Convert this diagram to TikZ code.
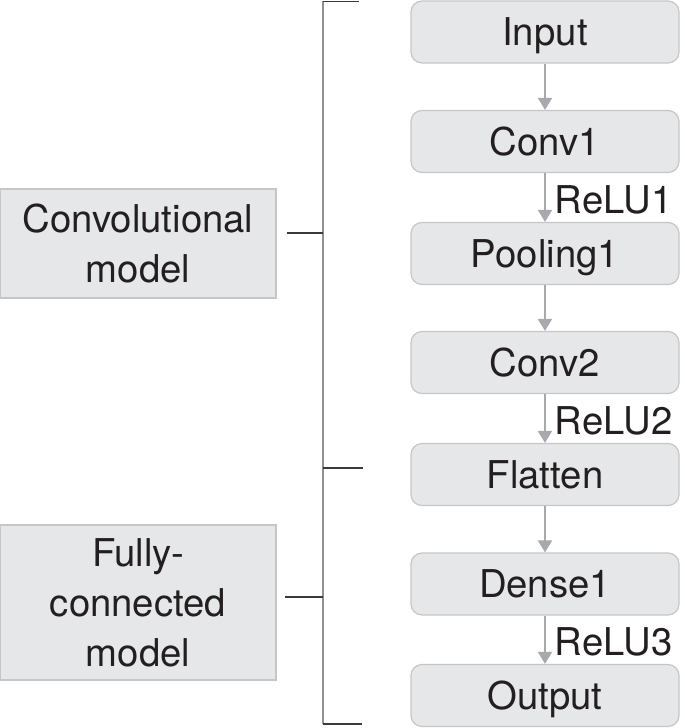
\documentclass[tikz,border=0pt]{standalone}
\usepackage{fontspec}
\setmainfont{TeX Gyre Heros}
\usetikzlibrary{arrows.meta}
\definecolor{boxfill}{HTML}{E6E7E8}
\definecolor{boxline}{HTML}{C4C6C8}
\definecolor{arrcol}{HTML}{A7A9AC}
\definecolor{txt}{HTML}{231F20}
\definecolor{brgray}{HTML}{8E9092}
\definecolor{brdark}{HTML}{3A3A3A}
\tikzset{
  layer/.style={draw=boxline, fill=boxfill, line width=1.2pt, rounded corners=11pt,
    minimum width=268pt, minimum height=62pt, inner sep=0pt,
    text height=27.5pt, text depth=0pt, text=txt},
  group/.style={draw=boxline, fill=boxfill, line width=1.2pt,
    minimum width=276pt, inner sep=0pt, align=center, text=txt},
  flow/.style={draw=arrcol, line width=1.8pt, -{Triangle[width=14pt,length=12pt]}},
  act/.style={anchor=west, inner sep=0pt, text height=27.5pt, text depth=0pt, text=txt, xshift=9pt, yshift=-2pt},
  brv/.style={draw=brgray, line width=2.4pt},
  brh/.style={draw=brdark, line width=1.4pt}
}
\begin{document}
\begin{tikzpicture}[x=1pt, y=-1pt, font=\fontsize{38.3}{50}\selectfont]
\useasboundingbox (0,0) rectangle (685,728);
% layers
\node[layer] (in)    at (545,32)    {Input};
\node[layer] (conv1) at (545,141.5) {Conv1};
\node[layer] (pool1) at (545,253.5) {Pooling1};
\node[layer] (conv2) at (545,362.5) {Conv2};
\node[layer] (flat)  at (545,474.5) {Flatten};
\node[layer] (dense) at (545,584)   {Dense1};
\node[layer] (out)   at (545,695.5) {Output};
% arrows
\draw[flow] (in) -- (conv1);
\draw[flow] (conv1) -- node[act] {ReLU1} (pool1);
\draw[flow] (pool1) -- (conv2);
\draw[flow] (conv2) -- node[act] {ReLU2} (flat);
\draw[flow] (flat) -- (dense);
\draw[flow] (dense) -- node[act] {ReLU3} (out);
% groups
\node[group, minimum height=109pt] (cm) at (138,243.5) {Convolutional\\model};
\node[group, minimum height=155pt] (fm) at (138,602.5) {Fully-\\connected\\model};
% bracket
\coordinate (bt) at (323,1);
\coordinate (bb) at (323,724);
\coordinate (btr) at (359,1.5);
\coordinate (bm) at (323,468);
\coordinate (bmr) at (363,468);
\coordinate (bbr) at (362,724);
\coordinate (c1) at (323,233);
\coordinate (c1l) at (287,233);
\coordinate (c2) at (323,597);
\coordinate (c2l) at (285,597);
\draw[brv] (bt) -- (bb);
\draw[brh] (323,1.5) -- (btr);
\draw[brh] (bm) -- (bmr);
\draw[brh] (bb) -- (bbr);
\draw[brh] (c1l) -- (c1);
\draw[brh] (c2l) -- (c2);
\end{tikzpicture}
\end{document}
